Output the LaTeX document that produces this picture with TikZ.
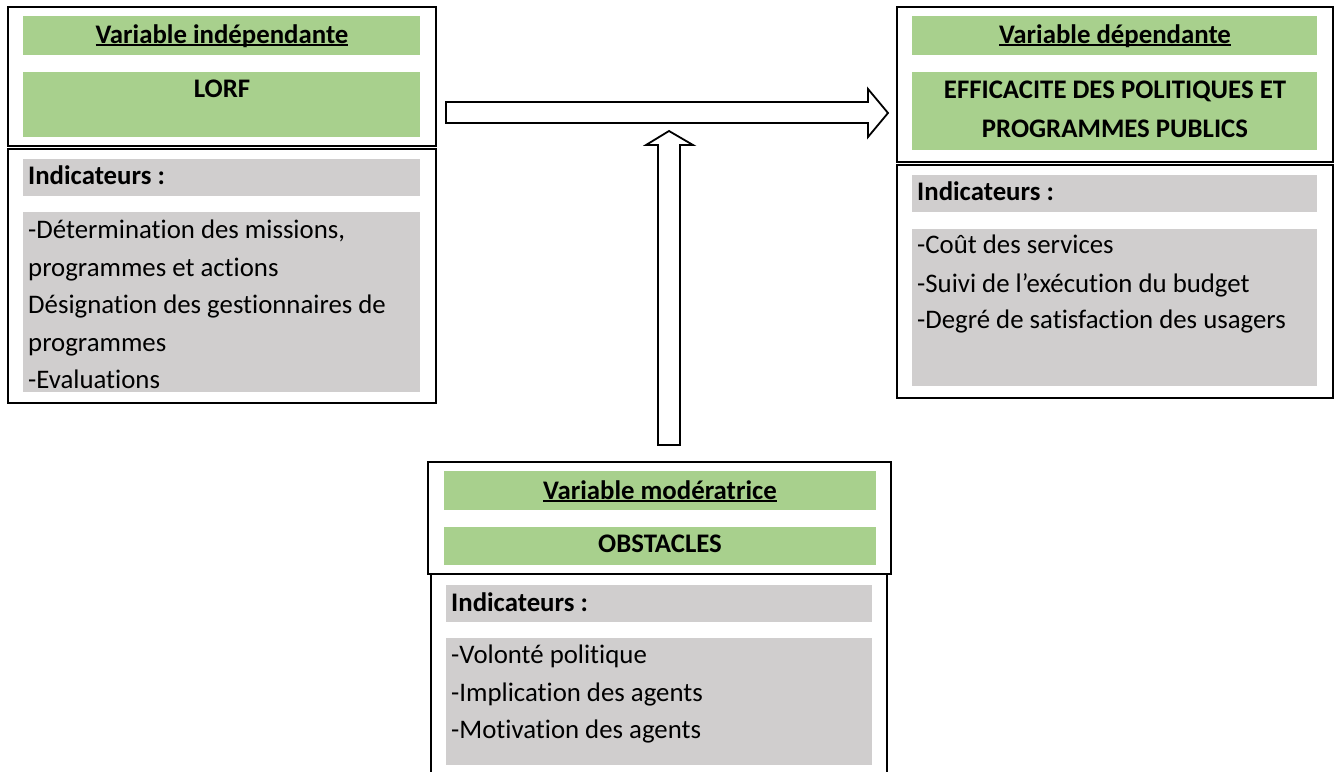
\documentclass[tikz,border=0pt]{standalone}
\usepackage{fontspec}
\setmainfont{Carlito}[Ligatures={TeX,NoCommon}]
\definecolor{vgreen}{RGB}{168,208,141}
\definecolor{vgrey}{RGB}{208,206,206}
\newcommand\ulbox[1]{\leavevmode\setbox0\hbox{#1}\rlap{\rule[-3pt]{\wd0}{1.6pt}}\box0}
\newcommand\txtsize{\fontsize{26.8}{37.5}\selectfont}
% \mkbox{name}{x1}{y1}{x2}{y2}{style}
\newcommand\mkbox[6]{\node[#6, minimum width={#4-#2}, minimum height={#5-#3}] (#1) at ({(#2+#4)/2},{(#3+#5)/2}) {};}
\tikzset{
  frame/.style={draw=black, line width=1.3pt, fill=white, inner sep=0pt, outer sep=0pt, rectangle},
  gbar/.style={fill=vgreen, inner sep=0pt, outer sep=0pt, rectangle},
  ybar/.style={fill=vgrey, inner sep=0pt, outer sep=0pt, rectangle},
  ttl/.style={anchor=base, inner sep=0pt, font=\txtsize\bfseries},
  lbl/.style={anchor=base west, inner sep=0pt, font=\txtsize},
  blbl/.style={anchor=base west, inner sep=0pt, font=\txtsize\bfseries},
  blockarrow/.style={draw=black, fill=white, line width=1.8pt, line join=miter},
}
\begin{document}
\begin{tikzpicture}[x=1pt, y=-1pt]
\clip (0,0) rectangle (1335,771);
\fill[white] (0,0) rectangle (1335,771);

% ---------- left box ----------
\mkbox{Lup}{8}{7}{436}{146}{frame}
\mkbox{Llo}{8}{149}{436}{403}{frame}
\mkbox{Lg1}{23}{16}{420}{55}{gbar}
\mkbox{Lg2}{23}{72}{420}{137}{gbar}
\mkbox{Ly1}{23}{159}{420}{196}{ybar}
\mkbox{Ly2}{23}{212}{420}{392}{ybar}
\node[ttl] (Lt1) at (222,43) {\ulbox{Variable indépendante}};
\node[ttl] (Lt2) at (222,97) {LORF};
\node[blbl] (Li) at (28,184) {Indicateurs :};
\node[lbl] (La) at (28,238) {-Détermination des missions,};
\node[lbl] (Lb) at (28,276) {programmes et actions};
\node[lbl] (Lc) at (28,313) {Désignation des gestionnaires de};
\node[lbl] (Ld) at (28,351) {programmes};
\node[lbl] (Le) at (28,388) {-Evaluations};

% ---------- right box ----------
\mkbox{Rup}{897}{7}{1333}{162}{frame}
\mkbox{Rlo}{897}{165}{1333}{398}{frame}
\mkbox{Rg1}{912}{16}{1317}{55}{gbar}
\mkbox{Rg2}{912}{72}{1317}{150}{gbar}
\mkbox{Ry1}{912}{175}{1317}{212}{ybar}
\mkbox{Ry2}{912}{229}{1317}{386}{ybar}
\node[ttl] (Rt1) at (1115,43) {\ulbox{Variable dépendante}};
\node[ttl] (Rt2) at (1115,98) {EFFICACITE DES POLITIQUES ET};
\node[ttl] (Rt3) at (1115,137) {PROGRAMMES PUBLICS};
\node[blbl] (Ri) at (917,200) {Indicateurs :};
\node[lbl] (Ra) at (917,253) {-Coût des services};
\node[lbl] (Rb) at (917,292) {-Suivi de l’exécution du budget};
\node[lbl] (Rc) at (917,328) {-Degré de satisfaction des usagers};

% ---------- bottom box ----------
\mkbox{Bup}{428}{462}{891}{574}{frame}
\mkbox{Blo}{431}{574}{887}{800}{frame}
\mkbox{Bg1}{444}{471}{876}{510}{gbar}
\mkbox{Bg2}{444}{527}{876}{565}{gbar}
\mkbox{By1}{446}{585}{872}{622}{ybar}
\mkbox{By2}{446}{638}{872}{765}{ybar}
\node[ttl] (Bt1) at (660,499) {\ulbox{Variable modératrice}};
\node[ttl] (Bt2) at (660,552) {OBSTACLES};
\node[blbl] (Bi) at (451,611) {Indicateurs :};
\node[lbl] (Ba) at (451,663) {-Volonté politique};
\node[lbl] (Bb) at (451,701) {-Implication des agents};
\node[lbl] (Bc) at (451,738) {-Motivation des agents};

% ---------- block arrows ----------
\draw[blockarrow] (446,102) -- (868,102) -- (868,89) -- (888,113) -- (868,137) -- (868,123) -- (446,123) -- cycle;
\draw[blockarrow] (658,445) -- (658,145) -- (646,145) -- (669,131) -- (693,145) -- (680,145) -- (680,445) -- cycle;
\end{tikzpicture}
\end{document}
